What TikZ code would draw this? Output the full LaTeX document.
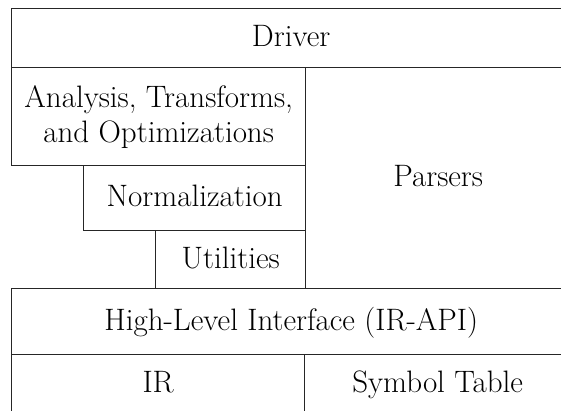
\documentclass[tikz,border=0pt]{standalone}
\begin{document}
\begin{tikzpicture}[x=1pt, y=-1pt,
  layer/.style={draw=black!85, line width=1.4pt, rectangle, inner sep=0pt,
    anchor=north west, align=center,
    font=\fontsize{31}{35}\selectfont},
  oneline/.style={text height=21pt, text depth=4pt}]
\useasboundingbox (0,0) rectangle (561,411);
% software layers, top to bottom (right and bottom edges run off the page)
\node[layer, oneline, minimum width=559pt, minimum height=59pt] (driver) at (11,8) {Driver};
\node[layer, minimum width=294pt, minimum height=98pt] (analysis) at (11,67)
  {Analysis, Transforms,\\and Optimizations};
\node[layer, oneline, minimum width=222pt, minimum height=65pt] (norm) at (83,165) {Normalization};
\node[layer, oneline, minimum width=150pt, minimum height=58pt] (util) at (155,230) {Utilities};
\node[layer, oneline, minimum width=265pt, minimum height=221pt] (parsers) at (305,67) {Parsers};
\node[layer, oneline, minimum width=559pt, minimum height=66pt] (hli) at (11,288) {High-Level Interface (IR-API)};
\node[layer, oneline, minimum width=293pt, minimum height=58pt] (ir) at (11,354) {IR};
\node[layer, oneline, minimum width=266pt, minimum height=58pt] (symtab) at (304,354) {Symbol Table};
\end{tikzpicture}
\end{document}
